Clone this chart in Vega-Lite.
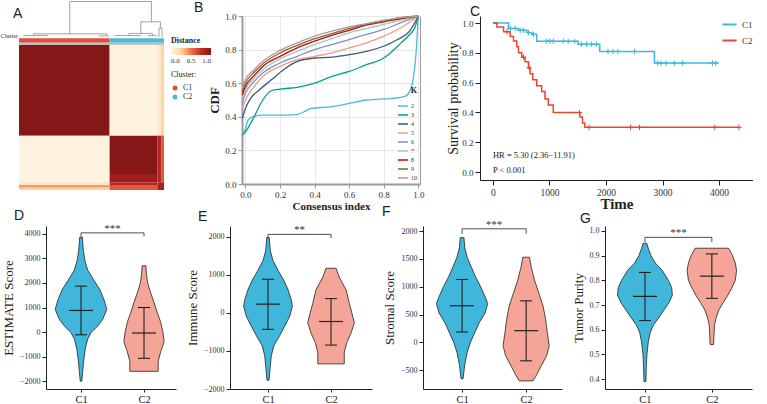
{
"$schema":"https://vega.github.io/schema/vega-lite/v6.json",
"padding":{"left":0,"top":0,"right":0,"bottom":0},
"background":"white",
"config":{
 "font":"Liberation Serif",
 "view":{"stroke":null},
 "axis":{"labelFont":"Liberation Serif","titleFont":"Liberation Serif","labelFontSize":8,"titleFontWeight":"normal","titleFontSize":13,"grid":false,"domainColor":"#222","tickColor":"#222","labelColor":"#333","titleColor":"#222","tickSize":4,"labelPadding":2,"titlePadding":4,"labelOverlap":false,"tickCount":20},
 "title":{"font":"Liberation Sans","fontSize":14,"fontWeight":"normal","anchor":"start","frame":"group","color":"#222"},
 "legend":{"labelFont":"Liberation Serif","titleFont":"Liberation Serif","labelColor":"#333","titleColor":"#222"},
 "tick":{"opacity":1},
 "concat":{"spacing":10}
},
"datasets":{
 "hm":[
  {"c0":0,"c1":62.5,"r0":0,"r1":62.5,"v":1},
  {"c0":62.5,"c1":95.4,"r0":0,"r1":62.5,"v":0.02},
  {"c0":95.4,"c1":98,"r0":0,"r1":62.5,"v":0.1},
  {"c0":98,"c1":100,"r0":0,"r1":62.5,"v":0.25},
  {"c0":0,"c1":62.5,"r0":62.5,"r1":94.7,"v":0.02},
  {"c0":62.5,"c1":95.4,"r0":62.5,"r1":89,"v":1},
  {"c0":62.5,"c1":95.4,"r0":89,"r1":94.7,"v":0.9},
  {"c0":95.4,"c1":98,"r0":62.5,"r1":94.7,"v":0.8},
  {"c0":98,"c1":100,"r0":62.5,"r1":94.7,"v":0.6},
  {"c0":0,"c1":62.5,"r0":94.7,"r1":96.5,"v":0.12},
  {"c0":0,"c1":62.5,"r0":96.5,"r1":98.5,"v":0.4},
  {"c0":0,"c1":62.5,"r0":98.5,"r1":100,"v":0.25},
  {"c0":62.5,"c1":95.4,"r0":94.7,"r1":97,"v":0.8},
  {"c0":62.5,"c1":95.4,"r0":97,"r1":100,"v":0.6},
  {"c0":95.4,"c1":100,"r0":94.7,"r1":100,"v":0.85}
 ],
 "clusterbar":[{"c0":0,"c1":62.5,"cl":"C1"},{"c0":62.5,"c1":100,"cl":"C2"}],
 "dend":[
  {"x0":35,"x1":91.3,"y0":-30,"y1":-30},
  {"x0":35,"x1":35,"y0":-30,"y1":-7.7},
  {"x0":91.3,"x1":91.3,"y0":-30,"y1":-16},
  {"x0":84,"x1":97.5,"y0":-16,"y1":-16},
  {"x0":84,"x1":84,"y0":-16,"y1":-8},
  {"x0":97.5,"x1":97.5,"y0":-16,"y1":-11.5},
  {"x0":96.5,"x1":98.7,"y0":-11.5,"y1":-11.5},
  {"x0":96.5,"x1":96.5,"y0":-11.5,"y1":-5.5},
  {"x0":98.7,"x1":98.7,"y0":-11.5,"y1":-5.5},
  {"x0":10,"x1":60.5,"y0":-7.7,"y1":-7.7},
  {"x0":10,"x1":10,"y0":-7.7,"y1":-6.5},
  {"x0":60.5,"x1":60.5,"y0":-7.7,"y1":-6.3},
  {"x0":3,"x1":20,"y0":-6.5,"y1":-6.5},
  {"x0":55,"x1":62,"y0":-6.3,"y1":-6.3},
  {"x0":75.9,"x1":92,"y0":-8,"y1":-8},
  {"x0":75.9,"x1":75.9,"y0":-8,"y1":-6.5},
  {"x0":92,"x1":92,"y0":-8,"y1":-6.5},
  {"x0":66,"x1":84,"y0":-6.5,"y1":-6.5},
  {"x0":89,"x1":95,"y0":-6.5,"y1":-6.5}
 ],
 "cdf":[
  {"K":2,"x":-0.018,"y":0.29},{"K":2,"x":0.0,"y":0.33},{"K":2,"x":0.015,"y":0.38},{"K":2,"x":0.04,"y":0.4},{"K":2,"x":0.1,"y":0.41},{"K":2,"x":0.2,"y":0.41},{"K":2,"x":0.3,"y":0.415},{"K":2,"x":0.34,"y":0.43},{"K":2,"x":0.38,"y":0.45},{"K":2,"x":0.5,"y":0.46},{"K":2,"x":0.6,"y":0.48},{"K":2,"x":0.7,"y":0.5},{"K":2,"x":0.85,"y":0.51},{"K":2,"x":0.92,"y":0.52},{"K":2,"x":0.95,"y":0.55},{"K":2,"x":0.97,"y":0.62},{"K":2,"x":0.985,"y":0.75},{"K":2,"x":1.0,"y":1.0},
  {"K":3,"x":-0.018,"y":0.29},{"K":3,"x":0.0,"y":0.31},{"K":3,"x":0.05,"y":0.4},{"K":3,"x":0.1,"y":0.5},{"K":3,"x":0.15,"y":0.555},{"K":3,"x":0.2,"y":0.565},{"K":3,"x":0.3,"y":0.575},{"K":3,"x":0.4,"y":0.6},{"K":3,"x":0.5,"y":0.64},{"K":3,"x":0.6,"y":0.67},{"K":3,"x":0.7,"y":0.71},{"K":3,"x":0.8,"y":0.75},{"K":3,"x":0.85,"y":0.79},{"K":3,"x":0.9,"y":0.84},{"K":3,"x":0.95,"y":0.89},{"K":3,"x":0.98,"y":0.93},{"K":3,"x":1.0,"y":1.0},
  {"K":4,"x":-0.018,"y":0.39},{"K":4,"x":0.0,"y":0.45},{"K":4,"x":0.03,"y":0.51},{"K":4,"x":0.08,"y":0.56},{"K":4,"x":0.15,"y":0.62},{"K":4,"x":0.22,"y":0.68},{"K":4,"x":0.3,"y":0.73},{"K":4,"x":0.4,"y":0.75},{"K":4,"x":0.5,"y":0.755},{"K":4,"x":0.6,"y":0.77},{"K":4,"x":0.7,"y":0.79},{"K":4,"x":0.8,"y":0.82},{"K":4,"x":0.88,"y":0.86},{"K":4,"x":0.95,"y":0.91},{"K":4,"x":1.0,"y":1.0},
  {"K":5,"x":-0.018,"y":0.45},{"K":5,"x":0.0,"y":0.5},{"K":5,"x":0.05,"y":0.58},{"K":5,"x":0.1,"y":0.64},{"K":5,"x":0.2,"y":0.7},{"K":5,"x":0.3,"y":0.74},{"K":5,"x":0.4,"y":0.76},{"K":5,"x":0.5,"y":0.78},{"K":5,"x":0.6,"y":0.81},{"K":5,"x":0.7,"y":0.84},{"K":5,"x":0.8,"y":0.88},{"K":5,"x":0.9,"y":0.93},{"K":5,"x":1.0,"y":1.0},
  {"K":6,"x":-0.018,"y":0.49},{"K":6,"x":0.0,"y":0.54},{"K":6,"x":0.05,"y":0.61},{"K":6,"x":0.1,"y":0.66},{"K":6,"x":0.2,"y":0.72},{"K":6,"x":0.3,"y":0.76},{"K":6,"x":0.4,"y":0.8},{"K":6,"x":0.5,"y":0.83},{"K":6,"x":0.6,"y":0.86},{"K":6,"x":0.7,"y":0.89},{"K":6,"x":0.8,"y":0.92},{"K":6,"x":0.9,"y":0.96},{"K":6,"x":1.0,"y":1.0},
  {"K":7,"x":-0.018,"y":0.51},{"K":7,"x":0.0,"y":0.56},{"K":7,"x":0.05,"y":0.63},{"K":7,"x":0.1,"y":0.68},{"K":7,"x":0.2,"y":0.745},{"K":7,"x":0.3,"y":0.79},{"K":7,"x":0.4,"y":0.83},{"K":7,"x":0.5,"y":0.865},{"K":7,"x":0.6,"y":0.9},{"K":7,"x":0.7,"y":0.925},{"K":7,"x":0.8,"y":0.95},{"K":7,"x":0.9,"y":0.975},{"K":7,"x":1.0,"y":1.0},
  {"K":8,"x":-0.018,"y":0.53},{"K":8,"x":0.0,"y":0.58},{"K":8,"x":0.05,"y":0.645},{"K":8,"x":0.1,"y":0.7},{"K":8,"x":0.2,"y":0.76},{"K":8,"x":0.3,"y":0.81},{"K":8,"x":0.4,"y":0.85},{"K":8,"x":0.5,"y":0.885},{"K":8,"x":0.6,"y":0.915},{"K":8,"x":0.7,"y":0.945},{"K":8,"x":0.8,"y":0.965},{"K":8,"x":0.9,"y":0.985},{"K":8,"x":1.0,"y":1.0},
  {"K":9,"x":-0.018,"y":0.55},{"K":9,"x":0.0,"y":0.6},{"K":9,"x":0.05,"y":0.665},{"K":9,"x":0.1,"y":0.715},{"K":9,"x":0.2,"y":0.78},{"K":9,"x":0.3,"y":0.825},{"K":9,"x":0.4,"y":0.865},{"K":9,"x":0.5,"y":0.895},{"K":9,"x":0.6,"y":0.925},{"K":9,"x":0.7,"y":0.95},{"K":9,"x":0.8,"y":0.97},{"K":9,"x":0.9,"y":0.99},{"K":9,"x":1.0,"y":1.0},
  {"K":10,"x":-0.018,"y":0.57},{"K":10,"x":0.0,"y":0.62},{"K":10,"x":0.05,"y":0.68},{"K":10,"x":0.1,"y":0.73},{"K":10,"x":0.2,"y":0.795},{"K":10,"x":0.3,"y":0.84},{"K":10,"x":0.4,"y":0.88},{"K":10,"x":0.5,"y":0.91},{"K":10,"x":0.6,"y":0.935},{"K":10,"x":0.7,"y":0.955},{"K":10,"x":0.8,"y":0.975},{"K":10,"x":0.9,"y":0.99},{"K":10,"x":1.0,"y":1.0}
 ],
 "km":[
  {"g":"C1","t":0,"s":1},{"g":"C1","t":276,"s":0.964},{"g":"C1","t":450,"s":0.951},{"g":"C1","t":600,"s":0.936},{"g":"C1","t":686,"s":0.924},{"g":"C1","t":774,"s":0.878},{"g":"C1","t":1507,"s":0.858},{"g":"C1","t":1889,"s":0.809},{"g":"C1","t":2856,"s":0.731},{"g":"C1","t":3990,"s":0.731},
  {"g":"C2","t":0,"s":1},{"g":"C2","t":70,"s":0.973},{"g":"C2","t":188,"s":0.942},{"g":"C2","t":305,"s":0.91},{"g":"C2","t":364,"s":0.88},{"g":"C2","t":422,"s":0.84},{"g":"C2","t":452,"s":0.8},{"g":"C2","t":510,"s":0.77},{"g":"C2","t":569,"s":0.74},{"g":"C2","t":628,"s":0.7},{"g":"C2","t":657,"s":0.66},{"g":"C2","t":704,"s":0.62},{"g":"C2","t":774,"s":0.58},{"g":"C2","t":862,"s":0.54},{"g":"C2","t":921,"s":0.49},{"g":"C2","t":979,"s":0.45},{"g":"C2","t":1067,"s":0.4},{"g":"C2","t":1537,"s":0.37},{"g":"C2","t":1584,"s":0.33},{"g":"C2","t":1625,"s":0.3},{"g":"C2","t":4352,"s":0.3}
 ],
 "cens":[
  {"g":"C1","t":305,"s":0.964},{"g":"C1","t":393,"s":0.964},{"g":"C1","t":481,"s":0.951},{"g":"C1","t":540,"s":0.951},{"g":"C1","t":628,"s":0.936},{"g":"C1","t":716,"s":0.924},{"g":"C1","t":950,"s":0.878},{"g":"C1","t":1009,"s":0.878},{"g":"C1","t":1067,"s":0.878},{"g":"C1","t":1243,"s":0.878},{"g":"C1","t":1331,"s":0.878},{"g":"C1","t":1449,"s":0.878},{"g":"C1","t":1566,"s":0.858},{"g":"C1","t":1654,"s":0.858},{"g":"C1","t":1742,"s":0.858},{"g":"C1","t":1830,"s":0.858},{"g":"C1","t":2035,"s":0.809},{"g":"C1","t":2123,"s":0.809},{"g":"C1","t":2211,"s":0.809},{"g":"C1","t":2504,"s":0.809},{"g":"C1","t":2915,"s":0.731},{"g":"C1","t":2973,"s":0.731},{"g":"C1","t":3062,"s":0.731},{"g":"C1","t":3208,"s":0.731},{"g":"C1","t":3355,"s":0.731},{"g":"C1","t":3883,"s":0.731},{"g":"C1","t":3941,"s":0.731},
  {"g":"C2","t":250,"s":0.942},{"g":"C2","t":540,"s":0.77},{"g":"C2","t":640,"s":0.7},{"g":"C2","t":1530,"s":0.4},{"g":"C2","t":1700,"s":0.3},{"g":"C2","t":2434,"s":0.3},{"g":"C2","t":2592,"s":0.3},{"g":"C2","t":3924,"s":0.3},{"g":"C2","t":4352,"s":0.3}
 ],
 "kmtext":[{"t":0,"s":0.113,"label":"HR = 5.30 (2.36−11.91)"},{"t":0,"s":0.013,"label":"P < 0.001"}],
 "violD":[
  {"g":1,"v":3870,"w":0.02},{"g":1,"v":3330,"w":0.037},{"g":1,"v":2930,"w":0.06},{"g":1,"v":2530,"w":0.105},{"g":1,"v":2130,"w":0.2},{"g":1,"v":1720,"w":0.3},{"g":1,"v":1320,"w":0.365},{"g":1,"v":920,"w":0.41},{"g":1,"v":520,"w":0.345},{"g":1,"v":250,"w":0.265},{"g":1,"v":-20,"w":0.16},{"g":1,"v":-290,"w":0.105},{"g":1,"v":-690,"w":0.067},{"g":1,"v":-1220,"w":0.04},{"g":1,"v":-1620,"w":0.027},{"g":1,"v":-2000,"w":0.012},
  {"g":2,"v":2700,"w":0.03},{"g":2,"v":2400,"w":0.037},{"g":2,"v":2000,"w":0.058},{"g":2,"v":1600,"w":0.105},{"g":2,"v":1200,"w":0.16},{"g":2,"v":800,"w":0.21},{"g":2,"v":400,"w":0.265},{"g":2,"v":0,"w":0.3},{"g":2,"v":-400,"w":0.32},{"g":2,"v":-800,"w":0.265},{"g":2,"v":-1200,"w":0.225},{"g":2,"v":-1600,"w":0.225}
 ],
 "statD":[{"g":1,"lo":-110,"med":880,"hi":1870},{"g":2,"lo":-1070,"med":-40,"hi":1000}],
 "brD":[{"a":1,"b":2,"top":4040,"bot":3900,"sig":"***"}],
 "violE":[
  {"g":1,"v":1975,"w":0.02},{"g":1,"v":1630,"w":0.037},{"g":1,"v":1370,"w":0.08},{"g":1,"v":1115,"w":0.16},{"g":1,"v":855,"w":0.25},{"g":1,"v":600,"w":0.32},{"g":1,"v":340,"w":0.37},{"g":1,"v":170,"w":0.385},{"g":1,"v":-90,"w":0.345},{"g":1,"v":-350,"w":0.265},{"g":1,"v":-600,"w":0.185},{"g":1,"v":-860,"w":0.093},{"g":1,"v":-1120,"w":0.053},{"g":1,"v":-1470,"w":0.032},{"g":1,"v":-1770,"w":0.016},
  {"g":2,"v":1170,"w":0.08},{"g":2,"v":940,"w":0.13},{"g":2,"v":600,"w":0.24},{"g":2,"v":250,"w":0.29},{"g":2,"v":0,"w":0.33},{"g":2,"v":-260,"w":0.37},{"g":2,"v":-520,"w":0.32},{"g":2,"v":-780,"w":0.25},{"g":2,"v":-1040,"w":0.21},{"g":2,"v":-1340,"w":0.21}
 ],
 "statE":[{"g":1,"lo":-434,"med":228,"hi":882},{"g":2,"lo":-847,"med":-228,"hi":374}],
 "brE":[{"a":1,"b":2,"top":2060,"bot":1960,"sig":"**"}],
 "violF":[
  {"g":1,"v":1880,"w":0.03},{"g":1,"v":1700,"w":0.042},{"g":1,"v":1530,"w":0.08},{"g":1,"v":1350,"w":0.145},{"g":1,"v":1180,"w":0.21},{"g":1,"v":1000,"w":0.29},{"g":1,"v":820,"w":0.36},{"g":1,"v":700,"w":0.4},{"g":1,"v":530,"w":0.36},{"g":1,"v":350,"w":0.265},{"g":1,"v":180,"w":0.2},{"g":1,"v":0,"w":0.13},{"g":1,"v":-180,"w":0.08},{"g":1,"v":-410,"w":0.04},{"g":1,"v":-650,"w":0.016},
  {"g":2,"v":1530,"w":0.053},{"g":2,"v":1350,"w":0.08},{"g":2,"v":1120,"w":0.13},{"g":2,"v":880,"w":0.2},{"g":2,"v":650,"w":0.265},{"g":2,"v":410,"w":0.305},{"g":2,"v":180,"w":0.33},{"g":2,"v":-60,"w":0.36},{"g":2,"v":-240,"w":0.32},{"g":2,"v":-410,"w":0.24},{"g":2,"v":-590,"w":0.16},{"g":2,"v":-690,"w":0.105}
 ],
 "statF":[{"g":1,"lo":188,"med":659,"hi":1130},{"g":2,"lo":-329,"med":212,"hi":747}],
 "brF":[{"a":1,"b":2,"top":2040,"bot":1950,"sig":"***"}],
 "violG":[
  {"g":1,"v":0.95,"w":0.026},{"g":1,"v":0.93,"w":0.05},{"g":1,"v":0.9,"w":0.09},{"g":1,"v":0.87,"w":0.155},{"g":1,"v":0.84,"w":0.26},{"g":1,"v":0.8,"w":0.35},{"g":1,"v":0.77,"w":0.4},{"g":1,"v":0.74,"w":0.41},{"g":1,"v":0.71,"w":0.36},{"g":1,"v":0.68,"w":0.285},{"g":1,"v":0.65,"w":0.21},{"g":1,"v":0.62,"w":0.13},{"g":1,"v":0.59,"w":0.08},{"g":1,"v":0.55,"w":0.05},{"g":1,"v":0.5,"w":0.03},{"g":1,"v":0.45,"w":0.02},{"g":1,"v":0.39,"w":0.015},
  {"g":2,"v":0.93,"w":0.25},{"g":2,"v":0.9,"w":0.31},{"g":2,"v":0.87,"w":0.35},{"g":2,"v":0.84,"w":0.37},{"g":2,"v":0.8,"w":0.35},{"g":2,"v":0.77,"w":0.3},{"g":2,"v":0.74,"w":0.24},{"g":2,"v":0.71,"w":0.17},{"g":2,"v":0.68,"w":0.105},{"g":2,"v":0.65,"w":0.066},{"g":2,"v":0.62,"w":0.04},{"g":2,"v":0.58,"w":0.032},{"g":2,"v":0.54,"w":0.026}
 ],
 "statG":[{"g":1,"lo":0.637,"med":0.735,"hi":0.832},{"g":2,"lo":0.727,"med":0.817,"hi":0.907}],
 "brG":[{"a":1,"b":2,"top":0.974,"bot":0.955,"sig":"***"}]
},
"spacing":-8,
"resolve":{"scale":{"color":"independent","stroke":"independent"},"legend":{"color":"independent","stroke":"independent"}},
"vconcat":[
 {"spacing":21,
  "resolve":{"scale":{"color":"independent","stroke":"independent"},"legend":{"color":"independent","stroke":"independent"}},
  "hconcat":[
  {"spacing":-18,
   "resolve":{"scale":{"color":"independent","stroke":"independent"},"legend":{"color":"independent","stroke":"independent"}},
   "hconcat":[
   {"width":118,"height":174,
    "title":{"text":"A","offset":-20,"dx":-33},
    "resolve":{"scale":{"color":"independent"},"legend":{"color":"independent"}},
    "layer":[
     {"data":{"name":"hm"},"mark":{"type":"rect"},
      "encoding":{
       "x":{"field":"c0","type":"quantitative","scale":{"domain":[18.62,100],"nice":false,"zero":false},"axis":null},
       "x2":{"field":"c1"},
       "y":{"field":"r0","type":"quantitative","scale":{"domain":[-20,100],"nice":false,"zero":false,"reverse":true},"axis":null},
       "y2":{"field":"r1"},
       "color":{"field":"v","type":"quantitative","scale":{"domain":[0,0.25,0.5,0.75,1],"range":["#FFF6E6","#FDD3A0","#F2734B","#C32A23","#861719"]},
        "legend":{"title":"Distance","orient":"none","legendX":125,"legendY":21,"direction":"horizontal","gradientLength":40,"gradientThickness":7,"values":[0,0.5,1],"format":".1f","titleFontSize":8,"titleFontWeight":"bold","labelFontSize":7,"titlePadding":3}}
      }},
     {"data":{"name":"clusterbar"},"mark":{"type":"rect"},
      "encoding":{
       "x":{"field":"c0","type":"quantitative"},"x2":{"field":"c1"},
       "y":{"datum":-4.6,"type":"quantitative"},"y2":{"datum":-1.6},
       "color":{"field":"cl","type":"nominal","scale":{"domain":["C1","C2"],"range":["#E64B35","#4DBBD5"]},
        "legend":{"title":"Cluster:","orient":"none","legendX":125,"legendY":55,"symbolType":"circle","symbolSize":25,"labelFontSize":8,"titleFontSize":8,"titleFontWeight":"normal","rowPadding":1}}
      }},
     {"data":{"name":"clusterbar"},"mark":{"type":"rect","color":"#bdbdbd"},
      "encoding":{"x":{"datum":0,"type":"quantitative"},"x2":{"datum":100},"y":{"datum":-1.5,"type":"quantitative"},"y2":{"datum":-0.2}}},
     {"data":{"name":"dend"},"mark":{"type":"rule","color":"#8a8a8a","strokeWidth":0.8},
      "encoding":{"x":{"field":"x0","type":"quantitative"},"x2":{"field":"x1"},"y":{"field":"y0","type":"quantitative"},"y2":{"field":"y1"}}},
     {"data":{"values":[{"lab":"Cluster"}]},"mark":{"type":"text","align":"right","baseline":"bottom","fontSize":6,"font":"Liberation Serif","color":"#333","dx":-1},
      "encoding":{"x":{"datum":0,"type":"quantitative"},"y":{"datum":-4.4,"type":"quantitative"},"text":{"field":"lab"}}}
    ]},
   {"width":178,"height":168,
    "title":{"text":"B","dx":-48,"offset":-3},
    "view":{"stroke":"#9a9a9a","strokeWidth":1},
    "data":{"name":"cdf"},
    "mark":{"type":"line","strokeWidth":1.3,"interpolate":"monotone"},
    "encoding":{
     "x":{"field":"x","type":"quantitative","scale":{"domain":[-0.02,1.01],"nice":false,"zero":false},
      "axis":{"title":"Consensus index","values":[0,0.2,0.4,0.6,0.8,1],"format":".1f","grid":true,"gridColor":"#e8e8e8","domainColor":"#9a9a9a","domainWidth":2,"tickColor":"#9a9a9a","labelFontSize":9,"titleFontSize":11,"titleFontWeight":"bold","titlePadding":1,"titleColor":"#222"}},
     "y":{"field":"y","type":"quantitative","scale":{"domain":[0,1],"nice":false},
      "axis":{"title":"CDF","values":[0,0.2,0.4,0.6,0.8,1],"format":".1f","grid":true,"gridColor":"#e8e8e8","domainColor":"#9a9a9a","domainWidth":2,"tickColor":"#9a9a9a","labelFontSize":9,"titleFontSize":13,"titleFontWeight":"bold","titlePadding":3}},
     "color":{"field":"K","type":"ordinal","scale":{"domain":[2,3,4,5,6,7,8,9,10],"range":["#4DBBD5","#00A087","#3C5488","#F39B7F","#8491B4","#91D1C2","#DC0000","#7E6148","#B09C85"]},
      "legend":{"title":"K","orient":"bottom-right","symbolType":"stroke","symbolSize":100,"symbolStrokeWidth":1.5,"labelFontSize":6,"titleFontSize":8,"titleFontWeight":"bold","rowPadding":0,"offset":3,"titleAnchor":"end","labelOffset":2}}
    }}
  ]},
  {"width":273,"height":164,
   "title":{"text":"C","dx":-10,"offset":-3},
   "resolve":{"scale":{"color":"independent","stroke":"independent"}},
   "layer":[
    {"data":{"name":"km"},"mark":{"type":"line","interpolate":"step-after","strokeWidth":1.5},
     "encoding":{
      "x":{"field":"t","type":"quantitative","scale":{"domain":[-229,4600],"nice":false,"zero":false},
       "axis":{"title":"Time","values":[0,1000,2000,3000,4000],"format":"d","titleFontSize":15,"titleFontWeight":"bold","labelFontSize":9.5,"titlePadding":0,"tickSize":5}},
      "y":{"field":"s","type":"quantitative","scale":{"domain":[-0.053,1.047],"nice":false,"zero":false},
       "axis":{"title":"Survival probability","values":[0,0.2,0.4,0.6,0.8,1],"format":".1f","titleFontSize":14,"labelFontSize":9,"tickSize":5,"titlePadding":1}},
      "color":{"field":"g","type":"nominal","scale":{"domain":["C1","C2"],"range":["#3DB7DF","#E8462E"]},
       "legend":{"title":null,"orient":"top-right","symbolType":"stroke","symbolSize":200,"symbolStrokeWidth":2,"labelFontSize":9,"offset":0,"rowPadding":2}}
     }},
    {"data":{"name":"cens"},"mark":{"type":"point","shape":"M0,-1V1M-1,0H1","size":30,"strokeWidth":1,"filled":false,"opacity":1},
     "encoding":{
      "x":{"field":"t","type":"quantitative"},"y":{"field":"s","type":"quantitative"},
      "stroke":{"field":"g","type":"nominal","scale":{"domain":["C1","C2"],"range":["#3DB7DF","#E8462E"]},"legend":null}
     }},
    {"data":{"name":"kmtext"},"mark":{"type":"text","align":"left","baseline":"middle","fontSize":8.5,"font":"Liberation Serif","color":"#222"},
     "encoding":{"x":{"field":"t","type":"quantitative"},"y":{"field":"s","type":"quantitative"},"text":{"field":"label"}}}
   ]}
 ]},
 {"spacing":10,
  "resolve":{"scale":{"color":"independent","stroke":"independent"},"legend":{"color":"independent","stroke":"independent"}},
  "hconcat":[
  {"width":130,"height":163,
   "title":{"text":"D","dx":-32,"offset":0},
   "layer":[
    {"data":{"name":"violD"},"transform":[{"calculate":"datum.g - datum.w","as":"lo"},{"calculate":"datum.g + datum.w","as":"hi"}],
     "mark":{"type":"area","orient":"horizontal","stroke":"#222","strokeWidth":0.8},
     "encoding":{
      "y":{"field":"v","type":"quantitative","scale":{"domain":[-2320,4320],"nice":false,"zero":false},"axis":{"title":"ESTIMATE Score","values":[-2000,-1000,0,1000,2000,3000,4000],"format":"d"}},
      "x":{"field":"lo","type":"quantitative","scale":{"domain":[0.444,2.508],"nice":false,"zero":false},"axis":{"title":null,"values":[1,2],"labelExpr":"datum.value == 1 ? 'C1' : 'C2'","labelFontSize":10.5,"labelColor":"#222","tickSize":3}},
      "x2":{"field":"hi"},
      "color":{"field":"g","type":"nominal","scale":{"domain":[1,2],"range":["#40B6DA","#F5A597"]},"legend":null}
     }},
    {"data":{"name":"statD"},"mark":{"type":"rule","color":"#222","strokeWidth":1.1},"encoding":{"x":{"field":"g","type":"quantitative"},"y":{"field":"lo","type":"quantitative"},"y2":{"field":"hi"}}},
    {"data":{"name":"statD"},"mark":{"type":"tick","orient":"horizontal","color":"#222","size":24,"thickness":1.2},"encoding":{"x":{"field":"g","type":"quantitative"},"y":{"field":"med","type":"quantitative"}}},
    {"data":{"name":"statD"},"mark":{"type":"tick","orient":"horizontal","color":"#222","size":12,"thickness":1.1},"encoding":{"x":{"field":"g","type":"quantitative"},"y":{"field":"lo","type":"quantitative"}}},
    {"data":{"name":"statD"},"mark":{"type":"tick","orient":"horizontal","color":"#222","size":12,"thickness":1.1},"encoding":{"x":{"field":"g","type":"quantitative"},"y":{"field":"hi","type":"quantitative"}}},
    {"data":{"name":"brD"},"mark":{"type":"rule","color":"#222","strokeWidth":0.8},"encoding":{"x":{"field":"a","type":"quantitative"},"x2":{"field":"b"},"y":{"field":"top","type":"quantitative"}}},
    {"data":{"name":"brD"},"mark":{"type":"rule","color":"#222","strokeWidth":0.8},"encoding":{"x":{"field":"a","type":"quantitative"},"y":{"field":"top","type":"quantitative"},"y2":{"field":"bot"}}},
    {"data":{"name":"brD"},"mark":{"type":"rule","color":"#222","strokeWidth":0.8},"encoding":{"x":{"field":"b","type":"quantitative"},"y":{"field":"top","type":"quantitative"},"y2":{"field":"bot"}}},
    {"data":{"name":"brD"},"mark":{"type":"text","baseline":"bottom","fontSize":11,"dy":1,"color":"#333"},"encoding":{"x":{"datum":1.5,"type":"quantitative"},"y":{"field":"top","type":"quantitative"},"text":{"field":"sig"}}}
   ]},
  {"width":142,"height":163,
   "title":{"text":"E","dx":-32,"offset":0},
   "layer":[
    {"data":{"name":"violE"},"transform":[{"calculate":"datum.g - datum.w","as":"lo"},{"calculate":"datum.g + datum.w","as":"hi"}],
     "mark":{"type":"area","orient":"horizontal","stroke":"#222","strokeWidth":0.8},
     "encoding":{
      "y":{"field":"v","type":"quantitative","scale":{"domain":[-2000,2280],"nice":false,"zero":false},"axis":{"title":"Immune Score","values":[-2000,-1000,0,1000,2000],"format":"d"}},
      "x":{"field":"lo","type":"quantitative","scale":{"domain":[0.397,2.65],"nice":false,"zero":false},"axis":{"title":null,"values":[1,2],"labelExpr":"datum.value == 1 ? 'C1' : 'C2'","labelFontSize":10.5,"labelColor":"#222","tickSize":3}},
      "x2":{"field":"hi"},
      "color":{"field":"g","type":"nominal","scale":{"domain":[1,2],"range":["#40B6DA","#F5A597"]},"legend":null}
     }},
    {"data":{"name":"statE"},"mark":{"type":"rule","color":"#222","strokeWidth":1.1},"encoding":{"x":{"field":"g","type":"quantitative"},"y":{"field":"lo","type":"quantitative"},"y2":{"field":"hi"}}},
    {"data":{"name":"statE"},"mark":{"type":"tick","orient":"horizontal","color":"#222","size":24,"thickness":1.2},"encoding":{"x":{"field":"g","type":"quantitative"},"y":{"field":"med","type":"quantitative"}}},
    {"data":{"name":"statE"},"mark":{"type":"tick","orient":"horizontal","color":"#222","size":12,"thickness":1.1},"encoding":{"x":{"field":"g","type":"quantitative"},"y":{"field":"lo","type":"quantitative"}}},
    {"data":{"name":"statE"},"mark":{"type":"tick","orient":"horizontal","color":"#222","size":12,"thickness":1.1},"encoding":{"x":{"field":"g","type":"quantitative"},"y":{"field":"hi","type":"quantitative"}}},
    {"data":{"name":"brE"},"mark":{"type":"rule","color":"#222","strokeWidth":0.8},"encoding":{"x":{"field":"a","type":"quantitative"},"x2":{"field":"b"},"y":{"field":"top","type":"quantitative"}}},
    {"data":{"name":"brE"},"mark":{"type":"rule","color":"#222","strokeWidth":0.8},"encoding":{"x":{"field":"a","type":"quantitative"},"y":{"field":"top","type":"quantitative"},"y2":{"field":"bot"}}},
    {"data":{"name":"brE"},"mark":{"type":"rule","color":"#222","strokeWidth":0.8},"encoding":{"x":{"field":"b","type":"quantitative"},"y":{"field":"top","type":"quantitative"},"y2":{"field":"bot"}}},
    {"data":{"name":"brE"},"mark":{"type":"text","baseline":"bottom","fontSize":11,"dy":1,"color":"#333"},"encoding":{"x":{"datum":1.5,"type":"quantitative"},"y":{"field":"top","type":"quantitative"},"text":{"field":"sig"}}}
   ]},
  {"width":139,"height":163,
   "title":{"text":"F","dx":-41,"offset":0},
   "layer":[
    {"data":{"name":"violF"},"transform":[{"calculate":"datum.g - datum.w","as":"lo"},{"calculate":"datum.g + datum.w","as":"hi"}],
     "mark":{"type":"area","orient":"horizontal","stroke":"#222","strokeWidth":0.8},
     "encoding":{
      "y":{"field":"v","type":"quantitative","scale":{"domain":[-835,2090],"nice":false,"zero":false},"axis":{"title":"Stromal Score","values":[-500,0,500,1000,1500,2000],"format":"d"}},
      "x":{"field":"lo","type":"quantitative","scale":{"domain":[0.39,2.56],"nice":false,"zero":false},"axis":{"title":null,"values":[1,2],"labelExpr":"datum.value == 1 ? 'C1' : 'C2'","labelFontSize":10.5,"labelColor":"#222","tickSize":3}},
      "x2":{"field":"hi"},
      "color":{"field":"g","type":"nominal","scale":{"domain":[1,2],"range":["#40B6DA","#F5A597"]},"legend":null}
     }},
    {"data":{"name":"statF"},"mark":{"type":"rule","color":"#222","strokeWidth":1.1},"encoding":{"x":{"field":"g","type":"quantitative"},"y":{"field":"lo","type":"quantitative"},"y2":{"field":"hi"}}},
    {"data":{"name":"statF"},"mark":{"type":"tick","orient":"horizontal","color":"#222","size":24,"thickness":1.2},"encoding":{"x":{"field":"g","type":"quantitative"},"y":{"field":"med","type":"quantitative"}}},
    {"data":{"name":"statF"},"mark":{"type":"tick","orient":"horizontal","color":"#222","size":12,"thickness":1.1},"encoding":{"x":{"field":"g","type":"quantitative"},"y":{"field":"lo","type":"quantitative"}}},
    {"data":{"name":"statF"},"mark":{"type":"tick","orient":"horizontal","color":"#222","size":12,"thickness":1.1},"encoding":{"x":{"field":"g","type":"quantitative"},"y":{"field":"hi","type":"quantitative"}}},
    {"data":{"name":"brF"},"mark":{"type":"rule","color":"#222","strokeWidth":0.8},"encoding":{"x":{"field":"a","type":"quantitative"},"x2":{"field":"b"},"y":{"field":"top","type":"quantitative"}}},
    {"data":{"name":"brF"},"mark":{"type":"rule","color":"#222","strokeWidth":0.8},"encoding":{"x":{"field":"a","type":"quantitative"},"y":{"field":"top","type":"quantitative"},"y2":{"field":"bot"}}},
    {"data":{"name":"brF"},"mark":{"type":"rule","color":"#222","strokeWidth":0.8},"encoding":{"x":{"field":"b","type":"quantitative"},"y":{"field":"top","type":"quantitative"},"y2":{"field":"bot"}}},
    {"data":{"name":"brF"},"mark":{"type":"text","baseline":"bottom","fontSize":11,"dy":1,"color":"#333"},"encoding":{"x":{"datum":1.5,"type":"quantitative"},"y":{"field":"top","type":"quantitative"},"text":{"field":"sig"}}}
   ]},
  {"width":147,"height":163,
   "title":{"text":"G","dx":-25,"offset":0},
   "layer":[
    {"data":{"name":"violG"},"transform":[{"calculate":"datum.g - datum.w","as":"lo"},{"calculate":"datum.g + datum.w","as":"hi"}],
     "mark":{"type":"area","orient":"horizontal","stroke":"#222","strokeWidth":0.8},
     "encoding":{
      "y":{"field":"v","type":"quantitative","scale":{"domain":[0.36,1.02],"nice":false,"zero":false},"axis":{"title":"Tumor Purity","values":[0.4,0.5,0.6,0.7,0.8,0.9,1.0],"format":".1f"}},
      "x":{"field":"lo","type":"quantitative","scale":{"domain":[0.403,2.6],"nice":false,"zero":false},"axis":{"title":null,"values":[1,2],"labelExpr":"datum.value == 1 ? 'C1' : 'C2'","labelFontSize":10.5,"labelColor":"#222","tickSize":3}},
      "x2":{"field":"hi"},
      "color":{"field":"g","type":"nominal","scale":{"domain":[1,2],"range":["#40B6DA","#F5A597"]},"legend":null}
     }},
    {"data":{"name":"statG"},"mark":{"type":"rule","color":"#222","strokeWidth":1.1},"encoding":{"x":{"field":"g","type":"quantitative"},"y":{"field":"lo","type":"quantitative"},"y2":{"field":"hi"}}},
    {"data":{"name":"statG"},"mark":{"type":"tick","orient":"horizontal","color":"#222","size":24,"thickness":1.2},"encoding":{"x":{"field":"g","type":"quantitative"},"y":{"field":"med","type":"quantitative"}}},
    {"data":{"name":"statG"},"mark":{"type":"tick","orient":"horizontal","color":"#222","size":12,"thickness":1.1},"encoding":{"x":{"field":"g","type":"quantitative"},"y":{"field":"lo","type":"quantitative"}}},
    {"data":{"name":"statG"},"mark":{"type":"tick","orient":"horizontal","color":"#222","size":12,"thickness":1.1},"encoding":{"x":{"field":"g","type":"quantitative"},"y":{"field":"hi","type":"quantitative"}}},
    {"data":{"name":"brG"},"mark":{"type":"rule","color":"#222","strokeWidth":0.8},"encoding":{"x":{"field":"a","type":"quantitative"},"x2":{"field":"b"},"y":{"field":"top","type":"quantitative"}}},
    {"data":{"name":"brG"},"mark":{"type":"rule","color":"#222","strokeWidth":0.8},"encoding":{"x":{"field":"a","type":"quantitative"},"y":{"field":"top","type":"quantitative"},"y2":{"field":"bot"}}},
    {"data":{"name":"brG"},"mark":{"type":"rule","color":"#222","strokeWidth":0.8},"encoding":{"x":{"field":"b","type":"quantitative"},"y":{"field":"top","type":"quantitative"},"y2":{"field":"bot"}}},
    {"data":{"name":"brG"},"mark":{"type":"text","baseline":"bottom","fontSize":11,"dy":1,"color":"#333"},"encoding":{"x":{"datum":1.5,"type":"quantitative"},"y":{"field":"top","type":"quantitative"},"text":{"field":"sig"}}}
   ]}
 ]}
]
}
